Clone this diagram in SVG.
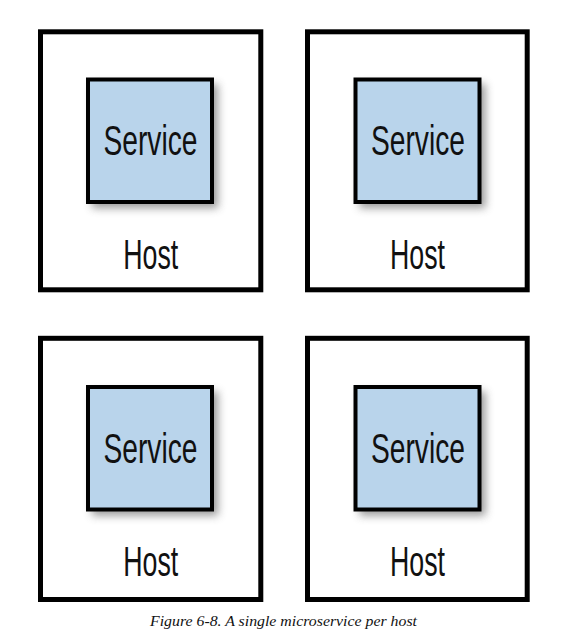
<svg xmlns="http://www.w3.org/2000/svg" width="577" height="640" viewBox="0 0 577 640">
  <style>
    .host { fill: #ffffff; stroke: #000000; stroke-width: 5; }
    .svc { fill: #b9d4eb; stroke: #000000; stroke-width: 4; }
    .shadow { fill: #555555; filter: url(#blur); opacity: 0.6; }
    .label { font-family: "Liberation Sans", Arial, sans-serif; font-size: 42px; fill: #111111; text-anchor: middle; }
    .caption { font-family: "Liberation Serif", "Times New Roman", serif; font-style: italic; font-size: 14px; fill: #111111; }
  </style>
  <defs>
    <filter id="blur" x="-20%" y="-20%" width="140%" height="140%">
      <feGaussianBlur stdDeviation="4"/>
    </filter>
  </defs>
  <rect width="577" height="640" fill="#ffffff"/>

  <g id="host1">
    <rect class="host" x="40.5" y="31.8" width="220.3" height="258"/>
    <text class="label" x="150.7" y="268.5" textLength="55" lengthAdjust="spacingAndGlyphs">Host</text>
  </g>
  <g id="service1">
    <rect class="shadow" x="92" y="84" width="126" height="124"/>
    <rect class="svc" x="88" y="79.5" width="124" height="122.5"/>
    <text class="label" x="150.5" y="155" textLength="94" lengthAdjust="spacingAndGlyphs">Service</text>
  </g>

  <g id="host2">
    <rect class="host" x="307.5" y="31.8" width="219.7" height="258"/>
    <text class="label" x="417.5" y="268.5" textLength="55" lengthAdjust="spacingAndGlyphs">Host</text>
  </g>
  <g id="service2">
    <rect class="shadow" x="359.5" y="84" width="126" height="124"/>
    <rect class="svc" x="355.5" y="79.5" width="124" height="122.5"/>
    <text class="label" x="418" y="155" textLength="94" lengthAdjust="spacingAndGlyphs">Service</text>
  </g>

  <g id="host3">
    <rect class="host" x="40.5" y="338.3" width="220.3" height="261.2"/>
    <text class="label" x="150.7" y="575.5" textLength="55" lengthAdjust="spacingAndGlyphs">Host</text>
  </g>
  <g id="service3">
    <rect class="shadow" x="92" y="391.5" width="126" height="124"/>
    <rect class="svc" x="88" y="387" width="124" height="122.5"/>
    <text class="label" x="150.5" y="462.5" textLength="94" lengthAdjust="spacingAndGlyphs">Service</text>
  </g>

  <g id="host4">
    <rect class="host" x="307.5" y="338.3" width="219.7" height="261.2"/>
    <text class="label" x="417.5" y="575.5" textLength="55" lengthAdjust="spacingAndGlyphs">Host</text>
  </g>
  <g id="service4">
    <rect class="shadow" x="359.5" y="391.5" width="126" height="124"/>
    <rect class="svc" x="355.5" y="387" width="124" height="122.5"/>
    <text class="label" x="418" y="462.5" textLength="94" lengthAdjust="spacingAndGlyphs">Service</text>
  </g>

  <g id="connectors"/>

  <text class="caption" x="150" y="626" textLength="267" lengthAdjust="spacingAndGlyphs">Figure 6-8. A single microservice per host</text>
</svg>
